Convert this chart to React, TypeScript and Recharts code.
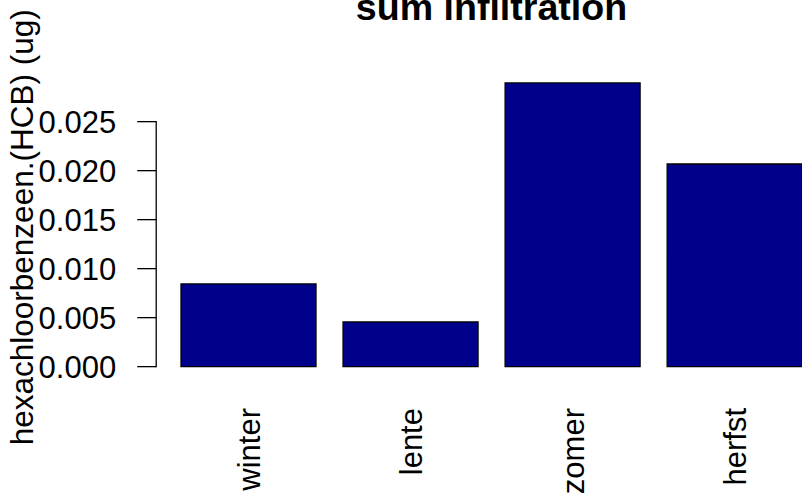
import React from "react";
import { BarChart, Bar, XAxis, YAxis } from "recharts";

const seasons = ["winter", "lente", "zomer", "herfst"];
const hcbValues = [0.00844, 0.00456, 0.02895, 0.02068];
const yTicks = [0, 0.005, 0.01, 0.015, 0.02, 0.025];
const titleText = "sum infiltration";
const yLabelText = "hexachloorbenzeen.(HCB) (ug)";

const data = seasons.map((s, i) => ({ season: s, value: hcbValues[i] }));

const FONT = "'Liberation Sans', Arial, sans-serif";
const CHART_W = 827;
const CHART_H = 499;
const M_TOP = 71.6;
const X_AXIS_H = 121;
const Y_AXIS_W = 156.2;
const DOMAIN: [number, number] = [-0.001158, 0.030108];
const PLOT_H = CHART_H - M_TOP - X_AXIS_H;
const K = PLOT_H / (DOMAIN[1] - DOMAIN[0]);

const YTick = (props: any) => {
  const { x, y, payload, index } = props;
  const v = payload.value as number;
  const axisX = Y_AXIS_W;
  return (
    <g>
      <line x1={axisX - 19} x2={axisX} y1={y} y2={y} stroke="#000" strokeWidth={1.3} />
      {index === 0 && (
        <line
          x1={axisX}
          x2={axisX}
          y1={y + 0.6}
          y2={y - (yTicks[yTicks.length - 1] - v) * K - 0.6}
          stroke="#000"
          strokeWidth={1.3}
        />
      )}
      <text
        x={axisX - 40}
        y={y}
        dy={11.2}
        textAnchor="end"
        fontFamily={FONT}
        fontSize={31}
        fill="#000"
      >
        {v.toFixed(3)}
      </text>
    </g>
  );
};

const XTick = (props: any) => {
  const { x, payload } = props;
  const ty = 408;
  return (
    <text
      x={x}
      y={ty}
      dy={11}
      transform={`rotate(-90, ${x}, ${ty})`}
      textAnchor="end"
      fontFamily={FONT}
      fontSize={31}
      fill="#000"
    >
      {payload.value}
    </text>
  );
};

export default function App() {
  return (
    <div
      style={{
        position: "absolute",
        left: 0,
        top: 0,
        width: 802,
        height: 499,
        overflow: "hidden",
        background: "#fff",
      }}
    >
      <BarChart
        width={CHART_W}
        height={CHART_H}
        data={data}
        margin={{ top: M_TOP, right: 0, bottom: 0, left: 0 }}
        barCategoryGap="8.333%"
      >
        <XAxis
          dataKey="season"
          height={X_AXIS_H}
          axisLine={false}
          tickLine={false}
          padding={{ left: 11.3, right: 11.3 }}
          tick={<XTick />}
          interval={0}
        />
        <YAxis
          width={Y_AXIS_W}
          domain={DOMAIN}
          ticks={yTicks}
          axisLine={false}
          tickLine={false}
          tick={<YTick />}
          interval={0}
          allowDataOverflow
        />
        <Bar
          dataKey="value"
          fill="#00008B"
          stroke="#000"
          strokeWidth={1.3}
          isAnimationActive={false}
        />
        <text
          x={491.5}
          y={20}
          textAnchor="middle"
          fontFamily={FONT}
          fontWeight="bold"
          fontSize={37.6}
          fill="#000"
        >
          {titleText}
        </text>
        <text
          x={33}
          y={227.3}
          transform="rotate(-90, 33, 227.3)"
          textAnchor="middle"
          fontFamily={FONT}
          fontSize={31.5}
          fill="#000"
        >
          {yLabelText}
        </text>
      </BarChart>
    </div>
  );
}
